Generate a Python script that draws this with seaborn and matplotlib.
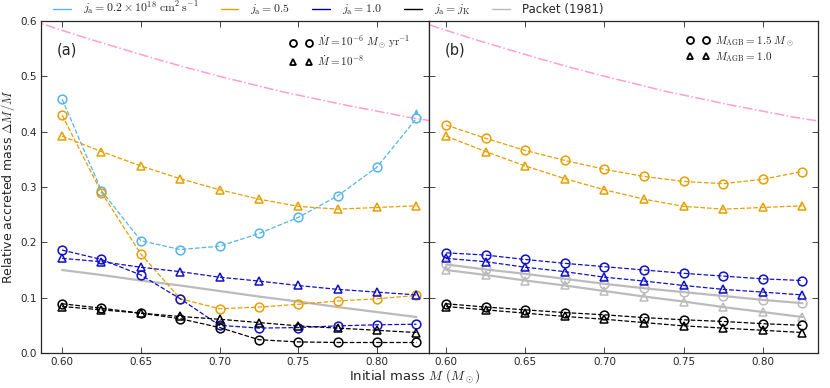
import numpy as np
import pandas as pd
import seaborn as sns
import matplotlib.pyplot as plt
from matplotlib.lines import Line2D

# ---- data ----
mass = [0.600, 0.625, 0.650, 0.675, 0.700, 0.725, 0.750, 0.775, 0.800, 0.825]

# panel (a): Mdot = 1e-6 (circles) and 1e-8 (triangles)
a_ja02_circ = [0.459, 0.293, 0.203, 0.187, 0.193, 0.216, 0.245, 0.284, 0.336, 0.424]
a_ja05_circ = [0.430, 0.290, 0.179, 0.098, 0.080, 0.083, 0.088, 0.094, 0.098, 0.104]
a_ja05_tri = [0.392, 0.364, 0.338, 0.315, 0.295, 0.278, 0.265, 0.260, 0.263, 0.266]
a_ja10_circ = [0.186, 0.169, 0.141, 0.098, 0.050, 0.045, 0.046, 0.049, 0.051, 0.052]
a_ja10_tri = [0.171, 0.165, 0.155, 0.147, 0.137, 0.130, 0.122, 0.115, 0.110, 0.105]
a_jk_circ = [0.089, 0.081, 0.072, 0.062, 0.046, 0.024, 0.020, 0.019, 0.019, 0.019]
a_jk_tri = [0.084, 0.078, 0.072, 0.066, 0.061, 0.055, 0.049, 0.045, 0.041, 0.037]
packet = [0.150, 0.141, 0.131, 0.122, 0.112, 0.102, 0.093, 0.083, 0.074, 0.065]

# panel (b): M_AGB = 1.5 (circles) and 1.0 (triangles)
b_ja05_circ = [0.412, 0.388, 0.366, 0.348, 0.332, 0.319, 0.310, 0.306, 0.314, 0.328]
b_ja05_tri = a_ja05_tri
b_ja10_circ = [0.181, 0.177, 0.169, 0.162, 0.156, 0.150, 0.144, 0.139, 0.134, 0.131]
b_ja10_tri = a_ja10_tri
b_pk_circ = [0.160, 0.151, 0.143, 0.134, 0.125, 0.117, 0.110, 0.103, 0.096, 0.090]
b_pk_tri = packet
b_jk_circ = [0.089, 0.083, 0.078, 0.073, 0.069, 0.064, 0.060, 0.057, 0.053, 0.050]
b_jk_tri = a_jk_tri

# pink dash-dot reference curve
pink_x = [0.58, 0.60, 0.62, 0.64, 0.66, 0.68, 0.70, 0.72, 0.74, 0.76, 0.78, 0.80, 0.82, 0.84]
pink_y = [0.602, 0.583, 0.565, 0.548, 0.531, 0.515, 0.500, 0.486, 0.472, 0.460, 0.448, 0.437, 0.426, 0.417]

c_sky = "#56B4E9"
c_orange = "#E69F00"
c_blue = "#1010C8"
c_navy = "#000080"
c_gray = "#BBBBBB"
c_pink = "#FF9FCF"

sns.set_style("ticks", {"xtick.direction": "in", "ytick.direction": "in"})
plt.rcParams["mathtext.fontset"] = "cm"
plt.rcParams["font.family"] = ["DejaVu Sans"]

fig = plt.figure(figsize=(8.3, 3.88), dpi=100)
ax_a = fig.add_axes([0.0494, 0.0902, 0.4675, 0.8557])
ax_b = fig.add_axes([0.5169, 0.0902, 0.4686, 0.8557], sharey=ax_a)


def serie(ax, y, color, marker, ls="--", lw=0.9):
    sns.lineplot(x=mass, y=y, ax=ax, color=color, linestyle=ls, linewidth=lw,
                 marker=marker, markersize=6.3, markerfacecolor="none",
                 markeredgecolor=color, markeredgewidth=1.1, zorder=3)


for ax in (ax_a, ax_b):
    sns.lineplot(x=pink_x, y=pink_y, ax=ax, color=c_pink, linestyle="-.", linewidth=1.1)

# panel a
sns.lineplot(x=mass, y=packet, ax=ax_a, color=c_gray, linewidth=1.6)
serie(ax_a, a_ja02_circ, c_sky, "o")
serie(ax_a, a_ja05_circ, c_orange, "o")
serie(ax_a, a_ja05_tri, c_orange, "^")
serie(ax_a, a_ja10_circ, c_blue, "o")
serie(ax_a, a_ja10_tri, c_blue, "^")
serie(ax_a, a_jk_circ, "k", "o")
serie(ax_a, a_jk_tri, "k", "^")
ax_a.annotate("", xy=(mass[-1], 0.446), xytext=(mass[-1], 0.431),
              arrowprops=dict(arrowstyle="-|>", color=c_sky, lw=1.0, mutation_scale=5))

# panel b
serie(ax_b, b_pk_circ, c_gray, "o", ls="-", lw=1.6)
serie(ax_b, b_pk_tri, c_gray, "^", ls="-", lw=1.6)
serie(ax_b, b_ja05_circ, c_orange, "o")
serie(ax_b, b_ja05_tri, c_orange, "^")
serie(ax_b, b_ja10_circ, c_blue, "o")
serie(ax_b, b_ja10_tri, c_blue, "^")
serie(ax_b, b_jk_circ, "k", "o")
serie(ax_b, b_jk_tri, "k", "^")

ax_a.set_xlim(0.5866, 0.8330)
ax_b.set_xlim(0.5892, 0.8348)
ax_a.set_ylim(0, 0.6)
ticks_x = [0.60, 0.65, 0.70, 0.75, 0.80]
for ax in (ax_a, ax_b):
    ax.set_xticks(ticks_x)
    ax.set_xticklabels([f"{t:.2f}" for t in ticks_x], fontsize=7.5)
    ax.tick_params(which="both", top=True, right=True, direction="in",
                   length=4, width=0.6, pad=3)
    for s in ax.spines.values():
        s.set_linewidth(0.9)
    ax.set_xlabel("")
ax_a.set_yticks([0.0, 0.1, 0.2, 0.3, 0.4, 0.5, 0.6])
ax_a.set_yticklabels(["0.0", "0.1", "0.2", "0.3", "0.4", "0.5", "0.6"], fontsize=7.5)
ax_b.tick_params(labelleft=False)

ax_a.set_ylabel(r"Relative accreted mass $\Delta M/M$", fontsize=9)
ax_a.yaxis.set_label_coords(-0.062, 0.5)
fig.text(0.5, 0.031, r"Initial mass $M\ (M_\odot)$", ha="center", va="center", fontsize=9.5)

ax_a.text(0.04, 0.9, "(a)", transform=ax_a.transAxes, fontsize=10.5)
ax_b.text(0.04, 0.9, "(b)", transform=ax_b.transAxes, fontsize=10.5)


def mk(m):
    return Line2D([], [], ls="none", marker=m, markersize=5, mfc="none", mec="k", mew=1.3)


ax_a.legend([mk("o"), mk("^")],
            [r"$\dot M = 10^{-6}\ M_\odot\,\mathrm{yr}^{-1}$", r"$\dot M = 10^{-8}$"],
            loc="upper left", bbox_to_anchor=(0.615, 0.99), numpoints=2, frameon=False,
            fontsize=8, handlelength=2.0, labelspacing=0.15, handletextpad=0.5)
ax_b.legend([mk("o"), mk("^")],
            [r"$M_\mathrm{AGB} = 1.5\ M_\odot$", r"$M_\mathrm{AGB} = 1.0$"],
            loc="upper left", bbox_to_anchor=(0.637, 0.99), numpoints=2, frameon=False,
            fontsize=8, handlelength=2.0, labelspacing=0.15, handletextpad=0.5)

top_handles = [Line2D([], [], color=c, lw=1.0) for c in
               [c_sky, c_orange, c_navy, "k", c_gray]]
top_labels = [r"$j_\mathrm{a} = 0.2\times10^{18}\ \mathrm{cm^2\,s^{-1}}$",
              r"$j_\mathrm{a} = 0.5$", r"$j_\mathrm{a} = 1.0$",
              r"$j_\mathrm{a} = j_\mathrm{K}$", "Packet (1981)"]
fig.legend(top_handles, top_labels, loc="center left", bbox_to_anchor=(0.064, 0.978), ncol=5,
           frameon=False, fontsize=8.5, handlelength=1.5, columnspacing=1.9,
           handletextpad=1.0, borderpad=0.0, borderaxespad=0.0)

fig.savefig("out.png", dpi=100)
